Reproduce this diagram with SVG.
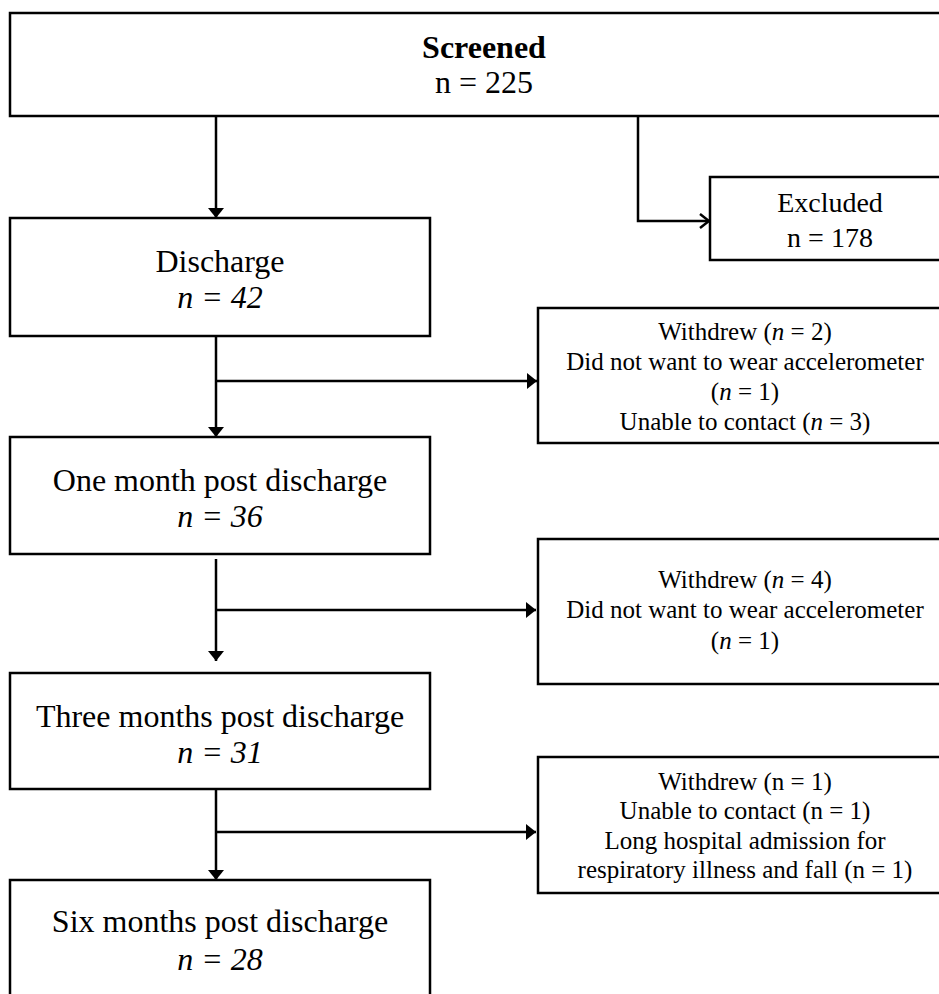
<svg xmlns="http://www.w3.org/2000/svg" width="939" height="994" viewBox="0 0 939 994">
<defs>
<style>
.box{fill:#fff;stroke:#000;stroke-width:2.5}
.ln{fill:none;stroke:#000;stroke-width:2.5}
text{font-family:"Liberation Serif","Times New Roman",serif;fill:#000;text-anchor:middle}
.big{font-size:32px}
.mid{font-size:28px}
.sm{font-size:25px}
.b{font-weight:bold}
.i{font-style:italic}
</style>
<marker id="ah" viewBox="0 0 10 16" refX="10" refY="8" markerWidth="10" markerHeight="16" markerUnits="userSpaceOnUse" orient="auto">
<path d="M0,0 L10,8 L0,16 Z" fill="#000"/>
</marker>
<marker id="ao" viewBox="0 0 12 16" refX="11" refY="8" markerWidth="12" markerHeight="16" markerUnits="userSpaceOnUse" orient="auto">
<path d="M2,1 L11,8 L2,15" fill="none" stroke="#000" stroke-width="2.5"/>
</marker>
</defs>
<rect width="939" height="994" fill="#fff"/>
<g id="connectors">
<line class="ln" x1="216" y1="116" x2="216" y2="218" marker-end="url(#ah)"/>
<polyline class="ln" points="638,116 638,221 709,221" marker-end="url(#ao)"/>
<line class="ln" x1="216" y1="336" x2="216" y2="437" marker-end="url(#ah)"/>
<line class="ln" x1="216" y1="381" x2="537" y2="381" marker-end="url(#ah)"/>
<line class="ln" x1="216" y1="559" x2="216" y2="661" marker-end="url(#ah)"/>
<line class="ln" x1="216" y1="610" x2="536" y2="610" marker-end="url(#ah)"/>
<line class="ln" x1="216" y1="789" x2="216" y2="880" marker-end="url(#ah)"/>
<line class="ln" x1="216" y1="832" x2="536" y2="832" marker-end="url(#ah)"/>
</g>
<g id="screened">
<rect class="box" x="10" y="13" width="950" height="103"/>
<text class="big b" x="484" y="58">Screened</text>
<text class="big" x="484" y="93">n = 225</text>
</g>
<g id="excluded">
<rect class="box" x="710" y="177" width="250" height="83"/>
<text class="mid" x="830" y="212">Excluded</text>
<text class="mid" x="830" y="247">n = 178</text>
</g>
<g id="discharge">
<rect class="box" x="10" y="218" width="420" height="118"/>
<text class="big" x="220" y="272">Discharge</text>
<text class="big i" x="220" y="308">n = 42</text>
</g>
<g id="loss1">
<rect class="box" x="538" y="308" width="420" height="135"/>
<text class="sm" x="745" y="340">Withdrew (<tspan class="i">n</tspan> = 2)</text>
<text class="sm" x="745" y="370">Did not want to wear accelerometer</text>
<text class="sm" x="745" y="400">(<tspan class="i">n</tspan> = 1)</text>
<text class="sm" x="745" y="430">Unable to contact (<tspan class="i">n</tspan> = 3)</text>
</g>
<g id="onemonth">
<rect class="box" x="10" y="437" width="420" height="117"/>
<text class="big" x="220" y="491">One month post discharge</text>
<text class="big i" x="220" y="527">n = 36</text>
</g>
<g id="loss2">
<rect class="box" x="538" y="539" width="420" height="145"/>
<text class="sm" x="745" y="588">Withdrew (<tspan class="i">n</tspan> = 4)</text>
<text class="sm" x="745" y="618">Did not want to wear accelerometer</text>
<text class="sm" x="745" y="649">(<tspan class="i">n</tspan> = 1)</text>
</g>
<g id="threemonths">
<rect class="box" x="10" y="673" width="420" height="116"/>
<text class="big" x="220" y="727">Three months post discharge</text>
<text class="big i" x="220" y="763">n = 31</text>
</g>
<g id="loss3">
<rect class="box" x="538" y="757" width="420" height="136"/>
<text class="sm" x="745" y="790">Withdrew (n = 1)</text>
<text class="sm" x="745" y="819">Unable to contact (n = 1)</text>
<text class="sm" x="745" y="849">Long hospital admission for</text>
<text class="sm" x="745" y="878">respiratory illness and fall (n = 1)</text>
</g>
<g id="sixmonths">
<rect class="box" x="10" y="880" width="420" height="130"/>
<text class="big" x="220" y="932">Six months post discharge</text>
<text class="big i" x="220" y="970">n = 28</text>
</g>
</svg>
